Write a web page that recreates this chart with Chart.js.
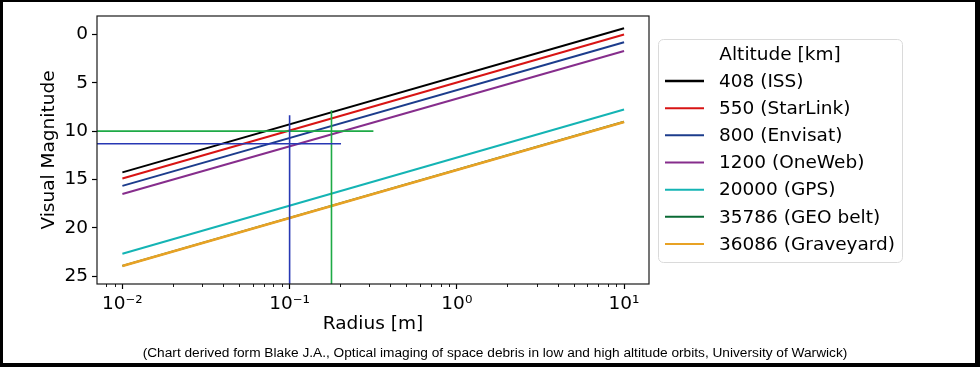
<!DOCTYPE html>
<html>
<head>
<meta charset="utf-8">
<script src="https://cdn.jsdelivr.net/npm/chart.js@4.4.0/dist/chart.umd.min.js"></script>
<style>
  html, body { margin: 0; padding: 0; background: #fff; }
  .wrap { position: relative; width: 980px; height: 367px; overflow: hidden; }
  #debris { position: absolute; left: 0; top: 0; }
  .edge { position: absolute; left: 0; top: 0; right: 0; bottom: 0; box-sizing: border-box;
    border-style: solid; border-color: #000; border-width: 2px 5px 4px 3px; pointer-events: none; }
  .source { position: absolute; left: 0; width: 990px; top: 345px; line-height: 16px; text-align: center;
    font-family: 'Liberation Sans', Arial, sans-serif; font-size: 13.7px; color: #000; }
</style>
</head>
<body>
<div class="wrap">
  <canvas id="debris" width="980" height="367"></canvas>
  <div class="source">(Chart derived form Blake J.A., Optical imaging of space debris in low and high altitude orbits, University of Warwick)</div>
  <div class="edge"></div>
</div>
<script>
// radius [m] at both ends of each curve
const radius = [0.01, 10];

// visual magnitude per altitude
const iss = [14.27, -0.65];
const starlink = [14.9, 0.0];
const envisat = [15.66, 0.8];
const oneweb = [16.5, 1.7];
const gps = [22.69, 7.76];
const geo = [23.94, 9.02];
const graveyard = [23.96, 9.04];

const labels = ['408 (ISS)', '550 (StarLink)', '800 (Envisat)', '1200 (OneWeb)',
  '20000 (GPS)', '35786 (GEO belt)', '36086 (Graveyard)'];
const colors = ['#000000', '#d81414', '#1c3c8c', '#862d8c', '#14b4b4', '#0a6a34', '#e8a224'];
const widths = [2, 2, 2, 2, 2, 2, 2.6];

// reference marks (10 cm object, 0.18 m object)
const blueVx = [0.1, 0.1];
const blueVy = [8.35, 25.82];
const blueHx = [0.00705, 0.203];
const blueHy = [11.3, 11.3];
const greenVx = [0.178, 0.178];
const greenVy = [7.83, 25.82];
const greenHx = [0.00705, 0.317];
const greenHy = [10.0, 10.0];

// axes
const xMin = 0.00705, xMax = 14.1;
const yMin = -1.92, yMax = 25.82;
const xMajor = [0.01, 0.1, 1, 10];
const xLabels = ['10\u207B\u00B2', '10\u207B\u00B9', '10\u2070', '10\u00B9'];
const xMinor = [0.008, 0.009, 0.02, 0.03, 0.04, 0.05, 0.06, 0.07, 0.08, 0.09,
  0.2, 0.3, 0.4, 0.5, 0.6, 0.7, 0.8, 0.9, 2, 3, 4, 5, 6, 7, 8, 9];
const yTicks = [0, 5, 10, 15, 20, 25];

const fs = 18.5;
Chart.defaults.font.family = "'DejaVu Sans', sans-serif";
Chart.defaults.color = '#000';

const pts = (xs, ys) => xs.map((x, i) => ({ x: x, y: ys[i] }));

const series = [iss, starlink, envisat, oneweb, gps, geo, graveyard];
const datasets = series.map((s, i) => ({
  label: labels[i],
  data: pts(radius, s),
  borderColor: colors[i],
  borderWidth: widths[i],
  order: 20 - i
}));

const marks = [
  [blueVx, blueVy, '#2838b4'],
  [blueHx, blueHy, '#2838b4'],
  [greenVx, greenVy, '#1eaa46'],
  [greenHx, greenHy, '#1eaa46']
];
marks.forEach(m => datasets.push({
  data: pts(m[0], m[1]),
  borderColor: m[2],
  borderWidth: 1.6,
  order: 1
}));

const framePlugin = {
  id: 'frame',
  afterDraw(chart) {
    const { ctx, chartArea: a, scales } = chart;
    ctx.save();
    ctx.strokeStyle = '#1a1a1a';
    ctx.lineWidth = 1.2;
    ctx.strokeRect(a.left, a.top, a.right - a.left, a.bottom - a.top);
    // minor ticks of the log axis
    ctx.lineWidth = 0.9;
    ctx.strokeStyle = '#000';
    xMinor.forEach(v => {
      const px = Math.round(scales.x.getPixelForValue(v)) + 0.5;
      ctx.beginPath();
      ctx.moveTo(px, a.bottom);
      ctx.lineTo(px, a.bottom + 3);
      ctx.stroke();
    });
    ctx.restore();
  }
};

const legendPlugin = {
  id: 'sideLegend',
  afterDraw(chart) {
    const ctx = chart.ctx;
    const items = chart.data.datasets.filter(d => d.label);
    const bx = 658, by = 39, bw = 244, bh = 223, row = 27.17;
    ctx.save();
    ctx.fillStyle = 'rgba(255,255,255,0.8)';
    ctx.strokeStyle = '#dadada';
    ctx.lineWidth = 1;
    ctx.beginPath();
    ctx.roundRect(bx + 0.5, by + 0.5, bw, bh, 5);
    ctx.fill();
    ctx.stroke();
    ctx.font = fs + "px 'DejaVu Sans'";
    ctx.fillStyle = '#000';
    ctx.textBaseline = 'middle';
    ctx.textAlign = 'center';
    ctx.fillText('Altitude [km]', bx + bw / 2, by + 16);
    ctx.textAlign = 'left';
    items.forEach((d, i) => {
      const cy = by + 42 + i * row;
      ctx.strokeStyle = d.borderColor;
      ctx.lineWidth = i === 0 ? 2.4 : 2;
      ctx.beginPath();
      ctx.moveTo(bx + 7, cy);
      ctx.lineTo(bx + 46, cy);
      ctx.stroke();
      ctx.fillText(d.label, bx + 61, cy + 1);
    });
    ctx.restore();
  }
};

new Chart(document.getElementById('debris'), {
  type: 'scatter',
  data: { datasets: datasets },
  options: {
    responsive: false,
    animation: false,
    showLine: true,
    elements: { point: { radius: 0, hoverRadius: 0 }, line: { tension: 0 } },
    layout: { padding: { left: 0, top: 16, right: 331, bottom: 23 } },
    plugins: { legend: { display: false }, tooltip: { enabled: false } },
    scales: {
      x: {
        type: 'logarithmic',
        min: xMin,
        max: xMax,
        afterBuildTicks: s => { s.ticks = xMajor.map(v => ({ value: v })); },
        afterFit: s => { s.height = 60; },
        ticks: {
          autoSkip: false, maxRotation: 0, padding: 4, font: { size: fs }, color: '#000',
          callback: v => { const i = xMajor.indexOf(v); return i >= 0 ? xLabels[i] : ''; }
        },
        grid: { drawOnChartArea: false, tickLength: 5, tickColor: '#000', tickWidth: 1.2 },
        border: { display: false },
        title: { display: true, text: 'Radius [m]', font: { size: fs }, color: '#000', padding: { top: 0, bottom: 8.4 } }
      },
      y: {
        reverse: true,
        min: yMin,
        max: yMax,
        afterBuildTicks: s => { s.ticks = yTicks.map(v => ({ value: v })); },
        afterFit: s => { s.width = 97; },
        ticks: { padding: 4, font: { size: fs }, color: '#000' },
        grid: { drawOnChartArea: false, tickLength: 5, tickColor: '#000', tickWidth: 1.2 },
        border: { display: false },
        title: { display: true, text: 'Visual Magnitude', font: { size: fs }, color: '#000', padding: { top: 38.4, bottom: 0 } }
      }
    }
  },
  plugins: [framePlugin, legendPlugin]
});
</script>
</body>
</html>
